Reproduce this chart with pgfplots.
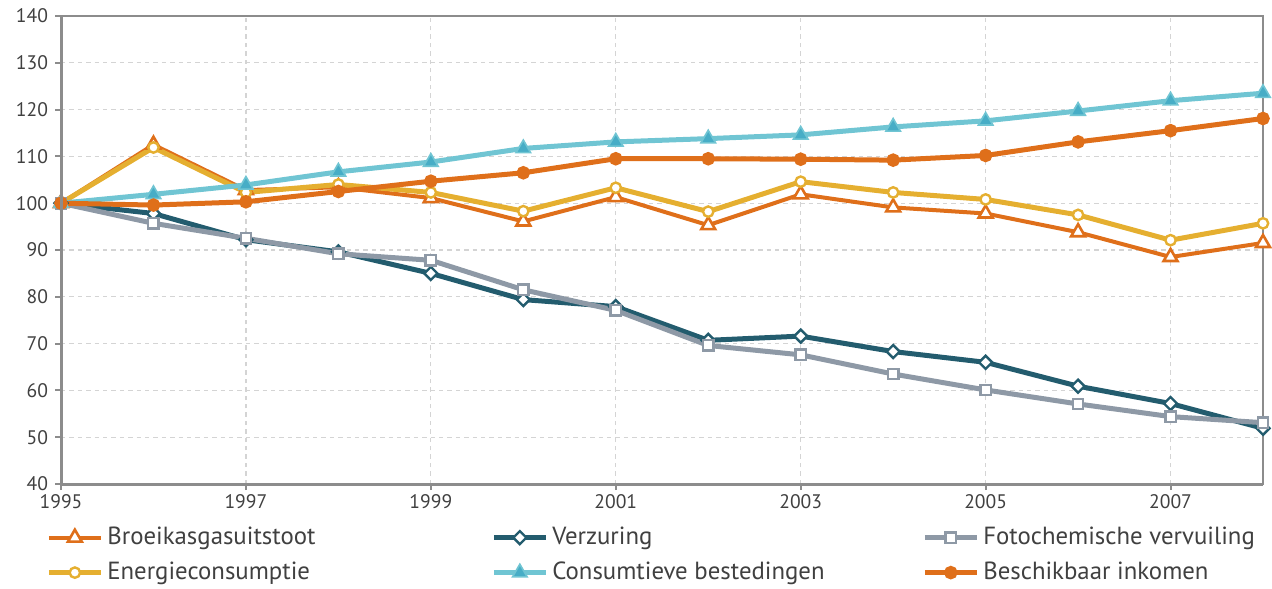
\documentclass[border=0pt]{standalone}
\usepackage{pgfplots}
\pgfplotsset{compat=1.18}
\usepackage{fontspec}
\setmainfont{PT Sans}
\definecolor{corange}{HTML}{DF6F1A}
\definecolor{cyellow}{HTML}{E5AF30}
\definecolor{cteal}{HTML}{70C5D3}
\definecolor{ctealfill}{HTML}{47ADC6}
\definecolor{cdark}{HTML}{235C6E}
\definecolor{cgray}{HTML}{8E99A6}
\definecolor{txt}{HTML}{404040}
\definecolor{axc}{HTML}{8C8C8C}
\definecolor{gridc}{HTML}{D4D4D4}
\begin{document}
\begin{tikzpicture}
\begin{axis}[
  scale only axis, width=601bp, height=234bp,
  xmin=1995, xmax=2008, ymin=40, ymax=140,
  xtick={1995,1997,...,2007}, ytick={40,50,...,140},
  xticklabel style={/pgf/number format/1000 sep=, yshift=1bp},
  /pgf/number format/assume math mode=true,
  tick label style={font=\fontsize{9.8bp}{11bp}\selectfont, text=txt},
  grid=major, major grid style={draw=gridc, dash pattern=on 2.2bp off 2bp, line width=0.6bp},
  axis line style={draw=axc, line width=1bp},
  tick style={draw=axc, line width=1bp},
  tick align=outside, major tick length=3bp,
  xtick pos=bottom, ytick pos=left,
  clip=false,
  legend columns=3,
  legend cell align=left,
  legend style={at={(0,0)}, anchor=north west, xshift=-10.5bp, yshift=-17.5bp,
    draw=none, fill=none, font=\fontsize{12.4bp}{14bp}\selectfont, text=txt,
    row sep=3.2bp, column sep=0bp},
  legend image code/.code={\draw[mark repeat=2,mark phase=2,#1] plot coordinates {(0bp,0bp) (13bp,0bp) (26bp,0bp)};},
]
\addplot[color=corange, line width=2bp, mark=triangle*, mark size=4bp, mark options={fill=white, draw=corange, line width=1.3bp, solid}]
coordinates {(1995,100) (1996,112.5) (1997,102.8) (1998,103.4) (1999,101.1) (2000,96.1) (2001,101.3) (2002,95.3) (2003,101.9) (2004,99.1) (2005,97.8) (2006,93.8) (2007,88.5) (2008,91.5)};
\addlegendentry{\makebox[190bp][l]{Broeikasgasuitstoot}}
\addplot[color=cdark, line width=2.5bp, mark=square*, mark size=2.3bp, mark options={fill=white, draw=cdark, line width=1.2bp, solid, rotate=45}]
coordinates {(1995,100) (1996,97.8) (1997,92.2) (1998,89.6) (1999,85.0) (2000,79.4) (2001,77.9) (2002,70.7) (2003,71.6) (2004,68.3) (2005,66.0) (2006,60.9) (2007,57.2) (2008,51.9)};
\addlegendentry{\makebox[183bp][l]{Verzuring}}
\addplot[color=cgray, line width=2.5bp, mark=square*, mark size=2.6bp, mark options={fill=white, draw=cgray, line width=1.2bp, solid}]
coordinates {(1995,100) (1996,95.7) (1997,92.5) (1998,89.2) (1999,87.8) (2000,81.5) (2001,77.1) (2002,69.6) (2003,67.6) (2004,63.5) (2005,60.1) (2006,57.1) (2007,54.4) (2008,53.1)};
\addlegendentry{Fotochemische vervuiling}
\addplot[color=cyellow, line width=2.5bp, mark=*, mark size=2.6bp, mark options={fill=white, draw=cyellow, line width=1.2bp, solid}]
coordinates {(1995,100) (1996,111.9) (1997,102.3) (1998,104.0) (1999,102.3) (2000,98.3) (2001,103.3) (2002,98.2) (2003,104.6) (2004,102.3) (2005,100.8) (2006,97.5) (2007,92.1) (2008,95.7)};
\addlegendentry{\makebox[190bp][l]{Energieconsumptie}}
\addplot[color=cteal, line width=2.5bp, mark=triangle*, mark size=4.2bp, mark options={fill=ctealfill, draw=cteal, line width=0.8bp, solid}]
coordinates {(1995,100) (1996,101.9) (1997,103.9) (1998,106.7) (1999,108.8) (2000,111.7) (2001,113.1) (2002,113.8) (2003,114.6) (2004,116.3) (2005,117.6) (2006,119.7) (2007,121.9) (2008,123.5)};
\addlegendentry{\makebox[183bp][l]{Consumtieve bestedingen}}
\addplot[color=corange, line width=2.5bp, mark=*, mark size=2.1bp, mark options={fill=corange, draw=corange, solid}]
coordinates {(1995,100) (1996,99.6) (1997,100.3) (1998,102.5) (1999,104.7) (2000,106.5) (2001,109.5) (2002,109.5) (2003,109.4) (2004,109.2) (2005,110.2) (2006,113.1) (2007,115.5) (2008,118.1)};
\addlegendentry{Beschikbaar inkomen}
\end{axis}
\draw[axc, line width=1.5bp] (current axis.north west) -- (current axis.south west) -- (current axis.south east);
\pgfresetboundingbox
\path (current axis.south west) ++(-30.5bp,-52.5bp) rectangle ++(636bp,294.5bp);
\end{tikzpicture}
\end{document}
